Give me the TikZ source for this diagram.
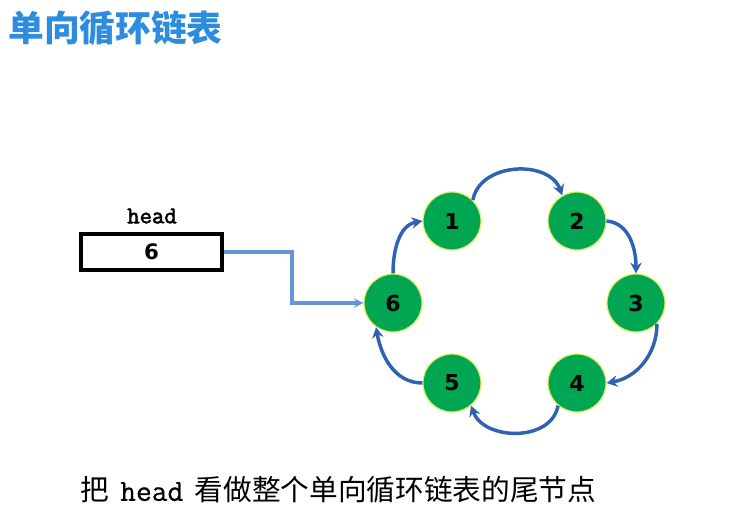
\documentclass[tikz,border=0pt]{standalone}
\usepackage{fontspec}
\usetikzlibrary{arrows.meta}
\newfontfamily\cjk{Noto Sans CJK SC}
\newfontfamily\digf{DejaVu Sans}
\newfontfamily\monob{Latin Modern Mono}[FakeBold=2.5]
\newfontfamily\monor{Latin Modern Mono}[FakeBold=0.6]
\definecolor{titleblue}{RGB}{46,140,222}
\definecolor{arcblue}{RGB}{47,98,178}
\definecolor{headblue}{RGB}{100,150,214}
\definecolor{nodegreen}{RGB}{0,166,81}
\definecolor{nodeedge}{RGB}{220,240,100}
\tikzset{
  listnode/.style={circle,fill=nodegreen,draw=nodeedge,line width=0.9pt,minimum size=43.5pt,inner sep=0pt,font=\digf\bfseries\fontsize{16.5}{16.5}\selectfont},
  arc/.style={draw=arcblue,line width=2.6pt,-{Stealth[length=8pt,width=8.5pt]}},
  headarrow/.style={draw=headblue,line width=2.4pt,-{Stealth[length=7pt,width=7pt]}},
  headbox/.style={draw=black,line width=2.6pt,minimum width=105.75pt,minimum height=27pt,inner sep=0pt,font=\digf\bfseries\fontsize{16}{16}\selectfont}
}
\begin{document}
\begin{tikzpicture}[x=0.75pt,y=-0.75pt]
\useasboundingbox (0,0) rectangle (750,529);
\node[anchor=west,text=titleblue,font=\cjk\bfseries\fontsize{26.8}{26.8}\selectfont,inner sep=0pt] (title) at (8,28) {单向循环链表};
\node[font=\monob\fontsize{18}{18}\selectfont,inner sep=0pt] (headlbl) at (152,216) {head};
\node[headbox] (hbox) at (151.5,252) {6};
\node[listnode] (n1) at (452,221) {1};
\node[listnode] (n2) at (577,221) {2};
\node[listnode] (n3) at (636,303) {3};
\node[listnode] (n4) at (577,383) {4};
\node[listnode] (n5) at (452,383) {5};
\node[listnode] (n6) at (393,303) {6};
\coordinate (bend1) at (292,252);
\coordinate (bend2) at (292,303);
\draw[headarrow] (hbox.east) -- (bend1) -- (bend2) -- (n6.west);
\draw[arc] (n1.45) to[out=80,in=110,looseness=1.1] (n2.120);
\draw[arc] (n2.east) to[out=-5,in=90] (n3.north);
\draw[arc] (n3.-45) to[out=-90,in=10] (n4.east);
\draw[arc] (n4.-130) to[out=-100,in=-70,looseness=1.1] (n5.-50);
\draw[arc] (n5.west) to[out=180,in=-80] (n6.-125);
\draw[arc] (n6.north) to[out=90,in=190] (n1.west);
\node[anchor=west,inner sep=0pt,font=\fontsize{21.5}{21.5}\selectfont] (caption) at (80,490) {\cjk 把\hspace{8.5pt}{\monor\fontsize{23}{23}\selectfont head}\hspace{8.5pt}看做整个单向循环链表的尾节点};
\end{tikzpicture}
\end{document}
